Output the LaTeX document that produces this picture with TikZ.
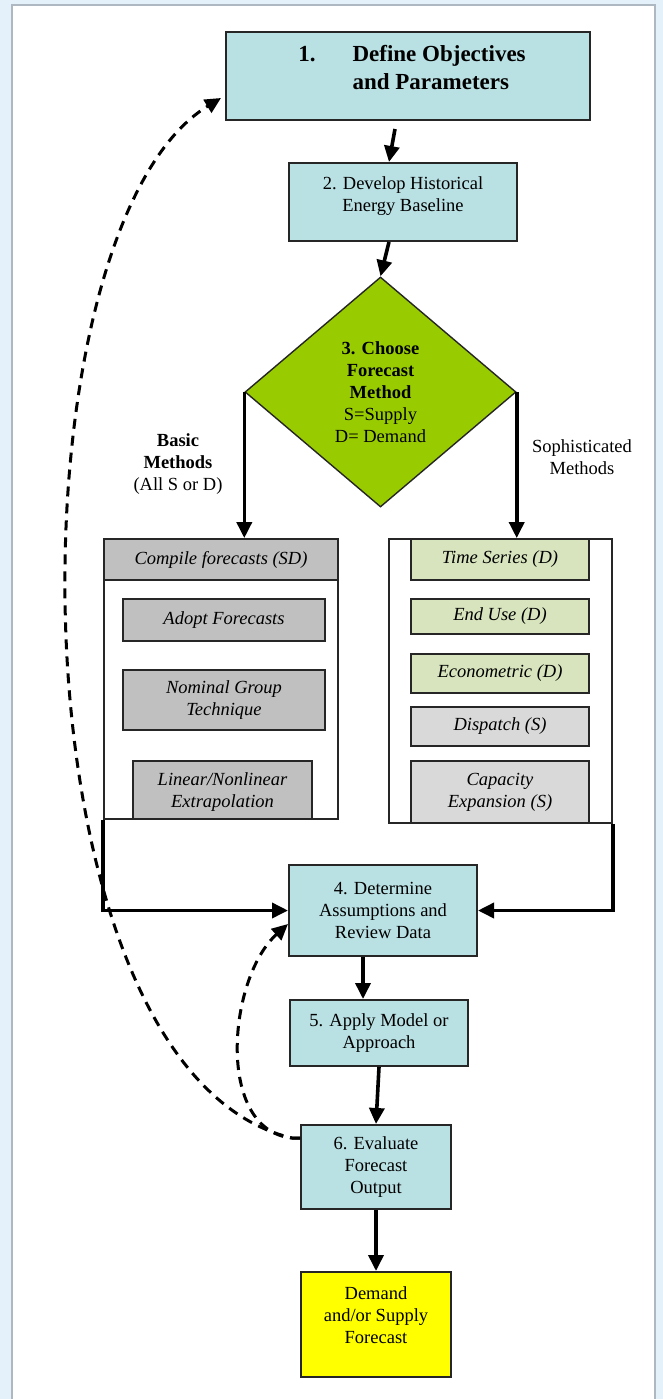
\documentclass[tikz,border=0pt]{standalone}
\usepackage{fontspec}
\setmainfont{Liberation Serif}
\usetikzlibrary{shapes.geometric,arrows.meta,calc}
\definecolor{bgblue}{HTML}{E4F1FA}
\definecolor{panelborder}{HTML}{AEB8C2}
\definecolor{tealbox}{HTML}{B9E0E3}
\definecolor{decgreen}{HTML}{99CC00}
\definecolor{lightgreen}{HTML}{D7E4BD}
\definecolor{midgray}{HTML}{C0C0C0}
\definecolor{lightgray2}{HTML}{D9D9D9}
\definecolor{yellowbox}{HTML}{FFFF00}
\begin{document}
\begin{tikzpicture}[x=1pt,y=-1pt,
  stdfont/.style={font=\fontsize{18.5}{22}\selectfont},
  itfont/.style={font=\fontsize{18.5}{22}\selectfont\itshape},
  box/.style={draw=black!85, line width=2pt, fill=tealbox, inner sep=0pt, align=center, stdfont},
  subbox/.style={draw=black!85, line width=1.8pt, inner sep=0pt, align=center, itfont},
  frame/.style={draw=black!85, line width=1.8pt, inner sep=0pt},
  txt/.style={inner sep=0pt, align=center, stdfont},
  arr/.style={line width=3.6pt, -{Triangle[length=16pt,width=15pt]}},
  dashline/.style={line width=3pt, dash pattern=on 10pt off 7pt, -{Triangle[length=16pt,width=15pt]}}
]
\useasboundingbox (0,0) rectangle (663,1399);
\fill[bgblue] (0,0) rectangle (663,1399);
\fill[white] (12,5) rectangle (655,1399);
\draw[panelborder, line width=1.2pt] (12,1399) -- (12,5) -- (655,5) -- (655,1399);

% step boxes
\node[box, minimum width=364pt, minimum height=88pt] (b1) at (408,76) {};
\node[txt, font=\fontsize{23}{28}\selectfont\bfseries] (t1) at (412,70)
  {\begin{tabular}{@{}l@{\hspace{37pt}}l@{}}1.&Define Objectives\\&and Parameters\end{tabular}};

\node[box, minimum width=228pt, minimum height=78pt] (b2) at (403,202) {};
\node[txt] (t2) at (403,196) {2. Develop Historical\\Energy Baseline};

\node[draw=black!85, line width=1.4pt, fill=decgreen, diamond, minimum width=271pt, minimum height=230pt,
  inner sep=0pt, align=center, stdfont] (d3) at (380.5,392)
  {\textbf{3. Choose}\\\textbf{Forecast}\\\textbf{Method}\\S=Supply\\D= Demand};

\node[txt] (lblB) at (178,464) {\textbf{Basic}\\\textbf{Methods}\\(All S or D)};
\node[txt] (lblS) at (582,457) {Sophisticated\\Methods};

% left container
\node[frame, minimum width=234pt, minimum height=280pt] (lc) at (221,679) {};
\node[subbox, fill=midgray, minimum width=234pt, minimum height=41pt] (hdr) at (221,559.5) {Compile forecasts (SD)};
\node[subbox, fill=midgray, minimum width=202pt, minimum height=42pt] (adopt) at (224,620) {Adopt Forecasts};
\node[subbox, fill=midgray, minimum width=202pt, minimum height=60pt] (nominal) at (224,700) {Nominal Group\\Technique};
\node[subbox, fill=midgray, minimum width=179pt, minimum height=58pt] (linear) at (222.5,790) {\\[-6pt]Linear/Nonlinear\\Extrapolation};

% right container
\node[frame, minimum width=223pt, minimum height=284pt] (rc) at (500.5,681) {};
\node[subbox, fill=lightgreen, minimum width=178pt, minimum height=41pt] (ts) at (500,559.5) {Time Series (D)};
\node[subbox, fill=lightgreen, minimum width=178pt, minimum height=35pt] (eu) at (500,616.5) {End Use (D)};
\node[subbox, fill=lightgreen, minimum width=178pt, minimum height=39pt] (eco) at (500,673.5) {Econometric (D)};
\node[subbox, fill=lightgray2, minimum width=178pt, minimum height=39pt] (disp) at (500,726.5) {Dispatch (S)};
\node[subbox, fill=lightgray2, minimum width=178pt, minimum height=62pt] (cap) at (500,792) {Capacity\\Expansion (S)};

\node[box, minimum width=188pt, minimum height=91pt] (b4) at (383,910.5) {4. Determine\\Assumptions and\\Review Data};
\node[box, minimum width=178pt, minimum height=66pt] (b5) at (379,1033) {5. Apply Model or\\Approach};
\node[box, minimum width=150pt, minimum height=84pt] (b6) at (376,1167) {6. Evaluate\\Forecast\\Output};
\node[box, fill=yellowbox, minimum width=150pt, minimum height=105pt] (b7) at (376,1324.5) {};
\node[txt] (t7) at (376,1315) {Demand\\and/or Supply\\Forecast};

% connectors
\draw[arr] ([xshift=-13pt,yshift=-8pt]b1.south) -- ([xshift=-14pt]b2.north);
\draw[arr] ([xshift=-14pt]b2.south) -- (d3.north);
\draw[arr] (d3.west) -- (d3.west |- hdr.north);
\draw[arr] (d3.east) -- (d3.east |- rc.north);
\draw[arr] (lc.south west) |- (b4.west);
\draw[arr] (rc.south east) |- (b4.east);
\draw[arr] ([xshift=-20pt]b4.south) -- ([xshift=-20pt]b4.south |- b5.north);
\draw[arr] (b5.south) -- (b6.north);
\draw[arr] (b6.south) -- (b7.north);

% feedback loops
\coordinate (e6) at ([yshift=29pt]b6.west);
\draw[dashline] (e6) -- ++(-8,0) .. controls (5,1070) and (5,230) .. ([xshift=-4pt,yshift=-22pt]b1.west);
\draw[dashline] (e6) -- ++(-8,0) .. controls (215,1130) and (228,978) .. ([yshift=-13.5pt]b4.west);
\end{tikzpicture}
\end{document}
